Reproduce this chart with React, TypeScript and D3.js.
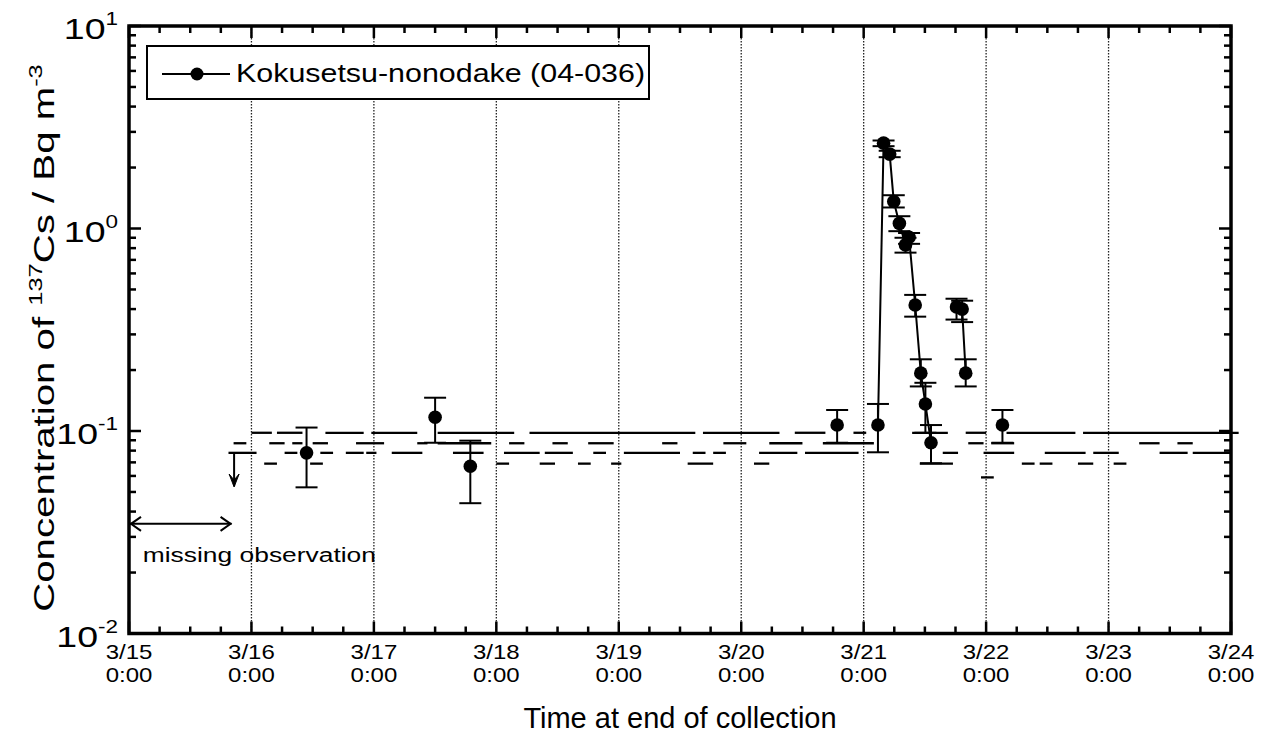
import React from "react";
import * as d3 from "d3";

// ---- data (hours since 3/15 0:00) ----
const dayLabels = ["3/15", "3/16", "3/17", "3/18", "3/19", "3/20", "3/21", "3/22", "3/23", "3/24"];
const yExponents = [-2, -1, 0, 1];

const obsHours = [34.8, 60.0, 66.9, 138.8, 146.8, 147.9, 149.1, 149.9, 151.0, 152.2, 152.9, 154.1, 155.2, 156.1, 157.2, 162.2, 163.3, 164.0, 171.2];
const obsValues = [0.078, 0.117, 0.067, 0.107, 0.107, 2.64, 2.33, 1.36, 1.06, 0.83, 0.905, 0.419, 0.193, 0.136, 0.0875, 0.41, 0.4, 0.193, 0.107];
const obsUpper = [0.104, 0.146, 0.0896, 0.127, 0.136, 2.72, 2.42, 1.46, 1.15, 0.9, 0.95, 0.47, 0.226, 0.173, 0.107, 0.45, 0.44, 0.226, 0.127];
const obsLower = [0.0527, 0.0875, 0.044, 0.0875, 0.0785, 2.55, 2.25, 1.27, 0.97, 0.76, 0.84, 0.367, 0.166, 0.098, 0.0693, 0.355, 0.345, 0.166, 0.0875];
const obsRun = [0, 1, 2, 3, 4, 4, 4, 4, 4, 4, 4, 4, 4, 4, 4, 5, 5, 5, 6];

// detection limits (below-limit samples) : [start hour, end hour]
const dlLevels = [0.098, 0.087, 0.078, 0.069, 0.059];
const dl098 = [[24, 28], [29, 34], [38.5, 46], [47.5, 56.5], [60.5, 75.5], [78.5, 111], [112.5, 127.5], [130.5, 136.5], [142, 144.5], [153.5, 160.5], [164, 168], [172, 185.5], [187, 217.5]];
const dl087 = [[20.5, 23], [27.5, 30.5], [32, 34], [36, 39], [44.5, 50], [56.5, 58.5], [60.5, 71], [74.5, 77.5], [83, 86], [90, 95], [104.5, 107.5], [116.5, 121], [125.5, 132], [136, 146], [164.5, 167.5], [169, 173.5], [198, 202], [205.5, 208.5]];
const dl078 = [[19.5, 25], [30.5, 33], [37.5, 40], [42.5, 46], [46.5, 48.5], [51.5, 57.5], [63.5, 69.5], [73.5, 80.5], [81.5, 87], [91, 93.5], [97, 108], [110.5, 113], [114.5, 117], [123.5, 131], [132.5, 143], [159.5, 162.5], [167.5, 173.5], [179.5, 187.5], [189, 194], [202, 207.5], [208.5, 216]];
const dl069 = [[26.5, 29], [35.5, 38], [72, 74.5], [80.5, 83.5], [88, 90.5], [94.5, 96.5], [109.5, 114.5], [122.5, 125.5], [155, 161.5], [175, 177.5], [178.5, 181], [186, 189], [193, 195.5]];
const dl059 = [[167, 169.5]];
const dlSegments = [dl098, dl087, dl078, dl069, dl059];

const missingStart = 0;
const missingEnd = 20.3;
const firstLimitHour = 20.6;

const legendLabel = "Kokusetsu-nonodake (04-036)";

const FONT = "'Liberation Sans', Arial, Helvetica, sans-serif";

export default function App() {
  const W = 1270, H = 741;
  const left = 129, right = 1231, top = 26, bottom = 633.5;
  const x = d3.scaleLinear().domain([0, 216]).range([left, right]);
  const y = d3.scaleLog().domain([0.01, 10]).range([bottom, top]);

  const dayTicks = d3.range(0, 217, 24);
  const minorX = d3.range(0, 217, 6).filter((h) => h % 24 !== 0);
  const majorY = yExponents.map((e) => Math.pow(10, e));
  const minorY: number[] = [];
  for (let e = -2; e < 1; e++) for (let m = 2; m <= 9; m++) minorY.push(m * Math.pow(10, e));

  const line = d3
    .line<number>()
    .x((i) => x(obsHours[i]))
    .y((i) => y(obsValues[i]));
  const runs = d3.groups(d3.range(obsHours.length), (i) => obsRun[i]).map((g) => g[1]).filter((g) => g.length > 1);

  const capW = 11;
  const frameW = 3.5;

  return (
    <svg width={W} height={H} style={{ position: "absolute", left: 0, top: 0, background: "#fff" }}>
      <rect x={0} y={0} width={W} height={H} fill="#fff" />
      {/* dotted day gridlines */}
      {dayTicks.slice(1, -1).map((h) => (
        <line key={"g" + h} x1={x(h)} x2={x(h)} y1={top} y2={bottom} stroke="#222" strokeWidth={1.3} strokeDasharray="1.5 1.5" />
      ))}
      {/* detection-limit segments */}
      {dlSegments.map((segs, li) =>
        segs.map((s, k) => (
          <line key={"d" + li + "_" + k} x1={x(s[0])} x2={x(s[1])} y1={y(dlLevels[li])} y2={y(dlLevels[li])} stroke="#000" strokeWidth={2.3} />
        ))
      )}
      {/* error bars */}
      {obsHours.map((h, i) => (
        <g key={"e" + i} stroke="#000" strokeWidth={2}>
          <line x1={x(h)} x2={x(h)} y1={y(obsUpper[i])} y2={y(obsLower[i])} />
          <line x1={x(h) - capW} x2={x(h) + capW} y1={y(obsUpper[i])} y2={y(obsUpper[i])} />
          <line x1={x(h) - capW} x2={x(h) + capW} y1={y(obsLower[i])} y2={y(obsLower[i])} />
        </g>
      ))}
      {/* connecting lines */}
      {runs.map((r, k) => (
        <path key={"l" + k} d={line(r) || ""} fill="none" stroke="#000" strokeWidth={2} />
      ))}
      {/* markers */}
      {obsHours.map((h, i) => (
        <circle key={"m" + i} cx={x(h)} cy={y(obsValues[i])} r={6.8} fill="#000" />
      ))}
      {/* first limit down arrow */}
      <g stroke="#000" strokeWidth={2} fill="#000">
        <line x1={x(firstLimitHour)} x2={x(firstLimitHour)} y1={y(0.078)} y2={y(0.0535)} />
        <path d={`M${x(firstLimitHour) - 5},${y(0.0535) - 12} L${x(firstLimitHour)},${y(0.0535) + 1} L${x(firstLimitHour) + 5},${y(0.0535) - 12} L${x(firstLimitHour)},${y(0.0535) - 6} Z`} strokeWidth={1} />
      </g>
      {/* missing observation arrow */}
      <g stroke="#000" strokeWidth={2} fill="none">
        <line x1={x(missingStart) + 1} x2={x(missingEnd) - 1} y1={y(0.0348)} y2={y(0.0348)} />
        <path d={`M${x(missingStart) + 12},${y(0.0348) - 7} L${x(missingStart) + 2},${y(0.0348)} L${x(missingStart) + 12},${y(0.0348) + 7}`} />
        <path d={`M${x(missingEnd) - 12},${y(0.0348) - 7} L${x(missingEnd) - 2},${y(0.0348)} L${x(missingEnd) - 12},${y(0.0348) + 7}`} />
      </g>
      <text transform={`translate(${x(2.7)},${y(0.0225)}) scale(1.32,1)`} fontFamily={FONT} fontSize={20} fill="#000">
        missing observation
      </text>
      {/* frame */}
      <rect x={left} y={top} width={right - left} height={bottom - top} fill="none" stroke="#000" strokeWidth={frameW} />
      {/* x ticks */}
      <g stroke="#000" strokeWidth={2.5}>
        {dayTicks.map((h) => (
          <g key={"xt" + h}>
            <line x1={x(h)} x2={x(h)} y1={bottom} y2={bottom - 12} />
            <line x1={x(h)} x2={x(h)} y1={top} y2={top + 12} />
          </g>
        ))}
        {minorX.map((h) => (
          <g key={"xm" + h}>
            <line x1={x(h)} x2={x(h)} y1={bottom} y2={bottom - 7} />
            <line x1={x(h)} x2={x(h)} y1={top} y2={top + 7} />
          </g>
        ))}
        {majorY.map((v) => (
          <g key={"yt" + v}>
            <line x1={left} x2={left + 12} y1={y(v)} y2={y(v)} />
            <line x1={right} x2={right - 12} y1={y(v)} y2={y(v)} />
          </g>
        ))}
        {minorY.map((v) => (
          <g key={"ym" + v}>
            <line x1={left} x2={left + 7} y1={y(v)} y2={y(v)} />
            <line x1={right} x2={right - 7} y1={y(v)} y2={y(v)} />
          </g>
        ))}
      </g>
      {/* x tick labels */}
      {dayTicks.map((h, i) => (
        <g key={"xl" + h} fontFamily={FONT} fontSize={20} fill="#000">
          <text transform={`translate(${x(h)},659) scale(1.2,1)`} textAnchor="middle">{dayLabels[i]}</text>
          <text transform={`translate(${x(h)},682) scale(1.2,1)`} textAnchor="middle">0:00</text>
        </g>
      ))}
      {/* y tick labels */}
      {yExponents.map((e) => (
        <text key={"yl" + e} transform={`translate(118,${y(Math.pow(10, e)) + 13}) scale(1.25,1)`} textAnchor="end" fontFamily={FONT} fontSize={30} fill="#000">
          10<tspan dy={-14} fontSize={18}>{String(e)}</tspan>
        </text>
      ))}
      {/* axis titles */}
      <text transform={`translate(680,728)`} textAnchor="middle" fontFamily={FONT} fontSize={29} fill="#000">
        Time at end of collection
      </text>
      <text transform={`translate(54,338) rotate(-90) scale(1.34,1)`} textAnchor="middle" fontFamily={FONT} fontSize={30} fill="#000">
        {"Concentration of  "}
        <tspan dy={-12} fontSize={19}>137</tspan>
        <tspan dy={12}>Cs / Bq m</tspan>
        <tspan dy={-12} fontSize={19}>-3</tspan>
      </text>
      {/* legend */}
      <rect x={147} y={46} width={502} height={53} fill="#fff" stroke="#000" strokeWidth={2} />
      <line x1={162} x2={230} y1={74} y2={74} stroke="#000" strokeWidth={2} />
      <circle cx={197} cy={74} r={6.5} fill="#000" />
      <text transform={`translate(236,82) scale(1.17,1)`} fontFamily={FONT} fontSize={26} fill="#000">
        {legendLabel}
      </text>
    </svg>
  );
}
